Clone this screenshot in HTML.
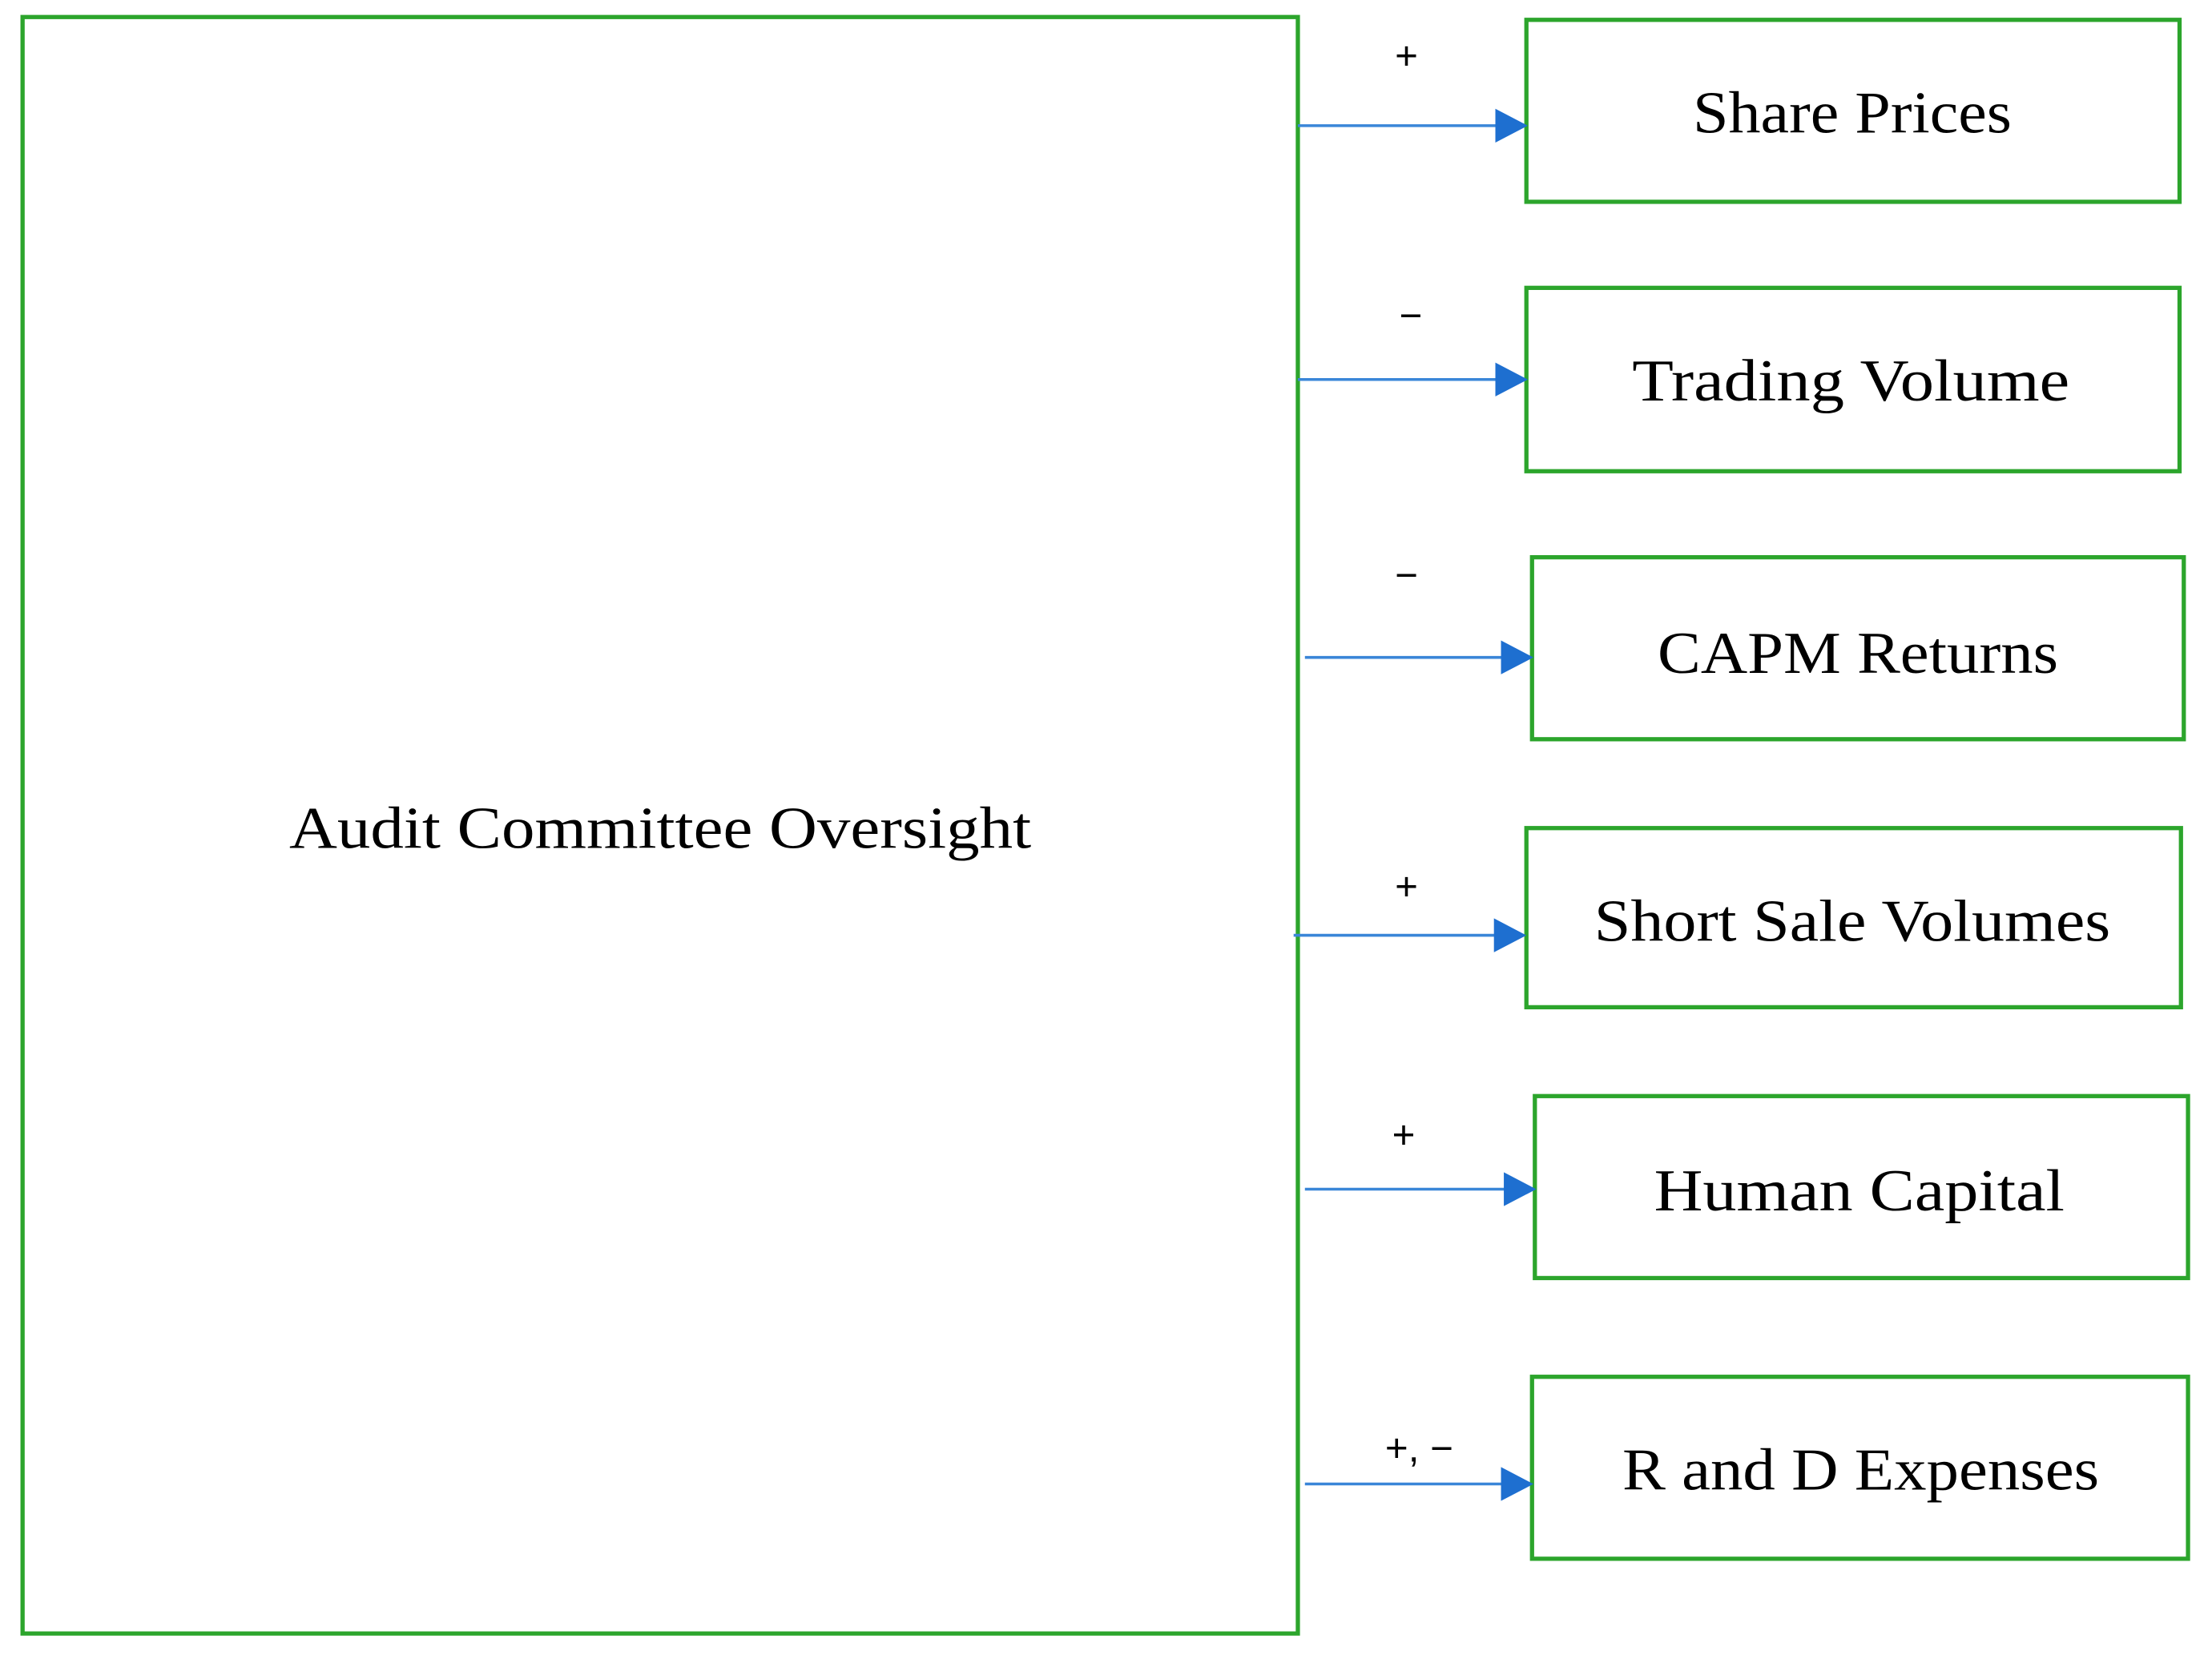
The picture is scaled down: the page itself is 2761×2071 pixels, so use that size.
<!DOCTYPE html>
<html><head><meta charset="utf-8"><style>html,body{margin:0;padding:0;background:#fff}svg{display:block}</style></head>
<body>
<svg width="2761" height="2071" viewBox="0 0 1568 1176" xmlns="http://www.w3.org/2000/svg" font-family="'Liberation Serif', serif">
<rect width="1568" height="1176" fill="#fff"/>
<g fill="none" stroke="#2ca52c" stroke-width="3">
<rect x="16" y="12" width="904" height="1146"/>
<rect x="1082" y="14" width="463" height="129"/>
<rect x="1082" y="204" width="463" height="130"/>
<rect x="1086" y="395" width="462" height="129"/>
<rect x="1082" y="587" width="464" height="127"/>
<rect x="1088" y="777" width="463" height="129"/>
<rect x="1086" y="976" width="465" height="129"/>
</g>
<g stroke="#3a86d8" stroke-width="2">
<line x1="920" y1="89" x2="1062" y2="89"/>
<line x1="920" y1="269" x2="1062" y2="269"/>
<line x1="925" y1="466" x2="1066" y2="466"/>
<line x1="917" y1="663" x2="1062" y2="663"/>
<line x1="925" y1="843" x2="1068" y2="843"/>
<line x1="925" y1="1052" x2="1066" y2="1052"/>
</g>
<g fill="#1e6fd0">
<polygon points="1060,77 1083,89 1060,101"/>
<polygon points="1060,257 1083,269 1060,281"/>
<polygon points="1064,454 1087,466 1064,478"/>
<polygon points="1059,651 1082,663 1059,675"/>
<polygon points="1066,831 1089,843 1066,855"/>
<polygon points="1064,1040 1087,1052 1064,1064"/>
</g>
<g fill="#000" font-size="42" text-anchor="middle">
<text x="468" y="601" textLength="526" lengthAdjust="spacingAndGlyphs">Audit Committee Oversight</text>
<text x="1313" y="94" textLength="226" lengthAdjust="spacingAndGlyphs">Share Prices</text>
<text x="1312" y="284" textLength="310" lengthAdjust="spacingAndGlyphs">Trading Volume</text>
<text x="1317" y="477" textLength="284" lengthAdjust="spacingAndGlyphs">CAPM Returns</text>
<text x="1313" y="667" textLength="366" lengthAdjust="spacingAndGlyphs">Short Sale Volumes</text>
<text x="1318" y="858" textLength="291" lengthAdjust="spacingAndGlyphs">Human Capital</text>
<text x="1319" y="1056" textLength="338" lengthAdjust="spacingAndGlyphs">R and D Expenses</text>
</g>
<g fill="#000" font-size="28" text-anchor="middle" font-family="'Liberation Sans', sans-serif">
<text x="997" y="49">+</text>
<text x="1000" y="233">−</text>
<text x="997" y="417">−</text>
<text x="997" y="638">+</text>
<text x="995" y="814">+</text>
<text x="1006" y="1036">+, −</text>
</g>
</svg>
</body></html>
